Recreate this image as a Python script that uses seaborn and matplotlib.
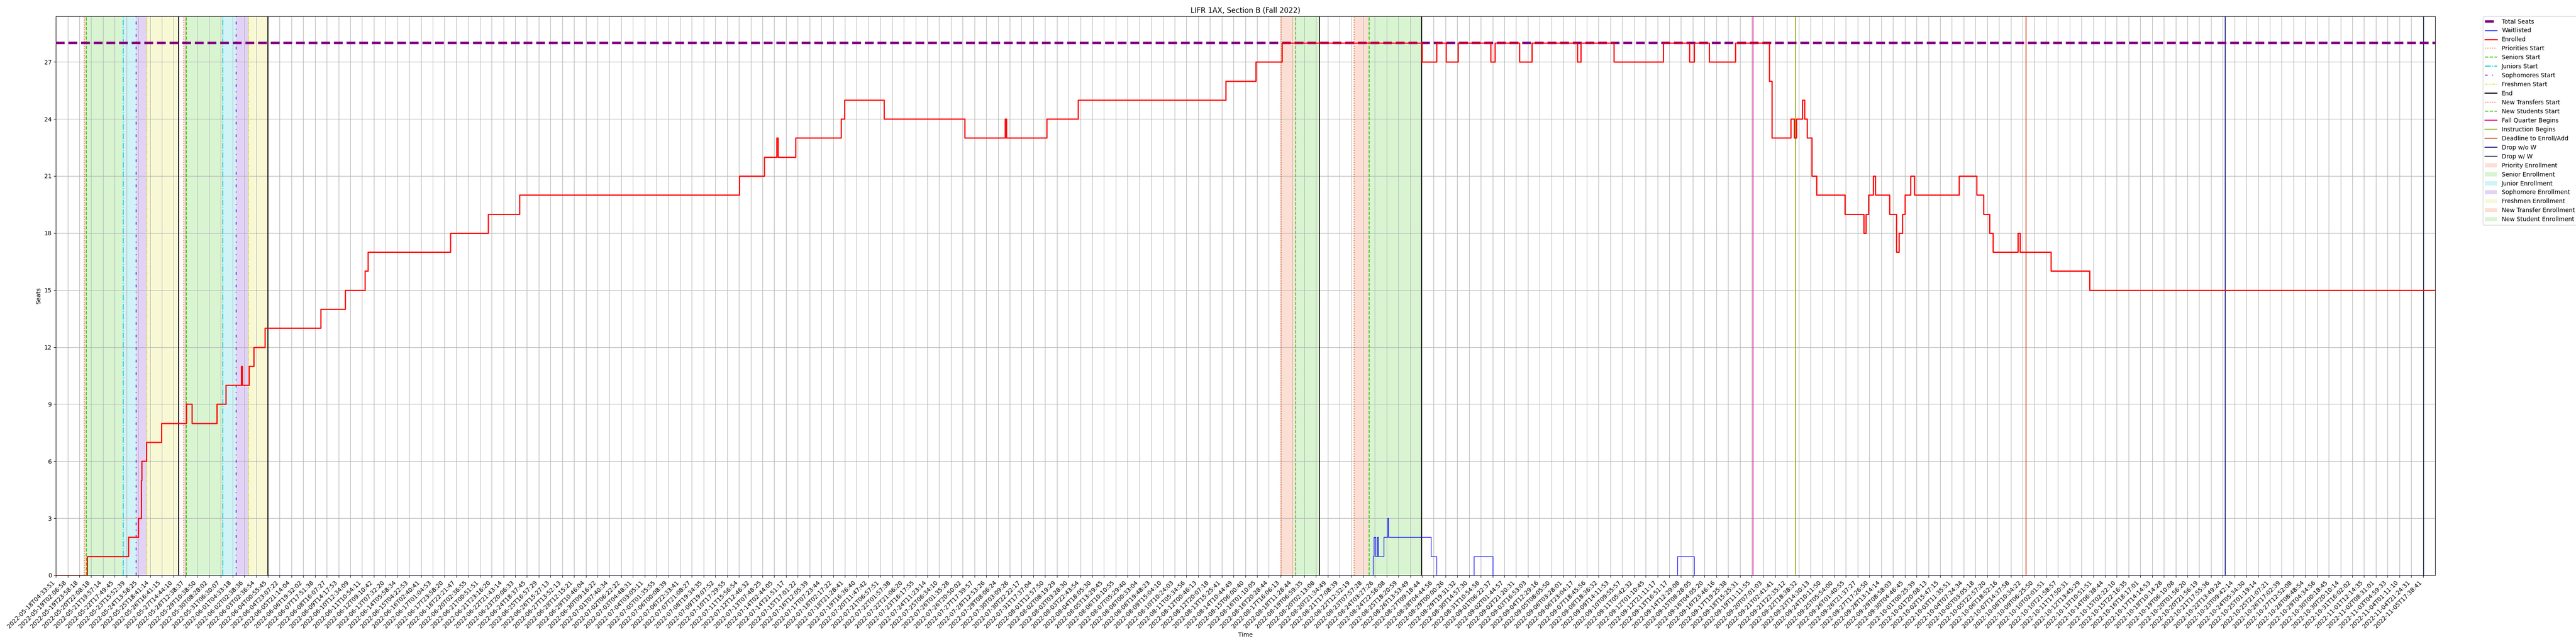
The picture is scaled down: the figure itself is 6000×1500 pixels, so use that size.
import numpy as np
import seaborn as sns
import matplotlib.pyplot as plt
from matplotlib.patches import Patch

# x positions are sample positions measured in tick steps (one tick every N samples)
tick_labels = [
    '2022-05-18T04:33:51', '2022-05-19T02:06:58', '2022-05-19T23:58:18', '2022-05-20T22:08:18',
    '2022-05-21T19:57:14', '2022-05-22T17:49:45', '2022-05-23T15:52:39', '2022-05-24T13:58:25',
    '2022-05-25T18:41:14', '2022-05-26T16:41:15', '2022-05-27T14:44:10', '2022-05-28T12:38:37',
    '2022-05-29T10:38:50', '2022-05-30T08:28:02', '2022-05-31T06:30:07', '2022-06-01T04:33:18',
    '2022-06-02T02:38:36', '2022-06-03T02:36:54', '2022-06-04T00:55:45', '2022-06-04T23:07:22',
    '2022-06-05T21:14:04', '2022-06-06T19:32:02', '2022-06-07T17:51:38', '2022-06-08T16:07:27',
    '2022-06-09T14:17:53', '2022-06-10T12:34:09', '2022-06-11T10:54:11', '2022-06-12T09:10:42',
    '2022-06-13T07:32:20', '2022-06-14T05:58:34', '2022-06-15T04:22:53', '2022-06-16T02:40:41',
    '2022-06-17T01:04:53', '2022-06-17T23:58:20', '2022-06-18T22:21:47', '2022-06-20T02:36:55',
    '2022-06-21T00:51:51', '2022-06-21T23:16:20', '2022-06-22T21:43:14', '2022-06-23T20:06:33',
    '2022-06-24T18:37:45', '2022-06-25T16:57:29', '2022-06-26T15:27:13', '2022-06-27T13:52:13',
    '2022-06-28T12:15:21', '2022-06-29T10:46:04', '2022-06-30T09:16:22', '2022-07-01T07:40:34',
    '2022-07-02T06:22:22', '2022-07-03T04:48:31', '2022-07-04T03:05:11', '2022-07-05T01:35:55',
    '2022-07-06T00:08:39', '2022-07-06T22:33:41', '2022-07-07T21:08:27', '2022-07-08T19:34:35',
    '2022-07-09T19:07:52', '2022-07-10T17:29:55', '2022-07-11T15:56:54', '2022-07-12T12:46:32',
    '2022-07-13T07:48:25', '2022-07-14T02:44:05', '2022-07-14T21:51:17', '2022-07-15T17:01:22',
    '2022-07-16T12:05:39', '2022-07-17T07:23:44', '2022-07-18T02:17:22', '2022-07-18T21:28:41',
    '2022-07-19T16:36:40', '2022-07-20T11:47:42', '2022-07-21T06:57:51', '2022-07-22T01:57:38',
    '2022-07-22T21:06:20', '2022-07-23T16:17:55', '2022-07-24T11:23:14', '2022-07-25T06:34:10',
    '2022-07-26T01:35:28', '2022-07-26T20:50:02', '2022-07-27T17:39:57', '2022-07-28T12:53:26',
    '2022-07-29T08:06:24', '2022-07-30T03:09:26', '2022-07-30T22:22:17', '2022-07-31T17:37:04',
    '2022-08-01T12:57:50', '2022-08-02T08:19:29', '2022-08-03T03:28:30', '2022-08-03T22:43:54',
    '2022-08-04T18:05:30', '2022-08-05T13:29:45', '2022-08-06T10:10:55', '2022-08-07T05:29:40',
    '2022-08-08T00:33:04', '2022-08-08T19:48:23', '2022-08-09T15:04:10', '2022-08-10T10:24:03',
    '2022-08-11T05:34:56', '2022-08-12T00:46:13', '2022-08-12T20:07:18', '2022-08-13T15:25:41',
    '2022-08-14T10:44:49', '2022-08-15T06:00:40', '2022-08-16T01:10:05', '2022-08-16T20:28:44',
    '2022-08-17T16:06:13', '2022-08-18T11:28:44', '2022-08-19T06:59:35', '2022-08-20T02:13:08',
    '2022-08-20T21:34:49', '2022-08-21T17:08:39', '2022-08-22T12:32:19', '2022-08-23T07:57:28',
    '2022-08-24T03:27:26', '2022-08-24T22:56:08', '2022-08-25T18:20:59', '2022-08-26T13:53:49',
    '2022-08-27T09:18:44', '2022-08-28T04:44:56', '2022-08-29T00:00:26', '2022-08-29T19:31:32',
    '2022-08-30T14:57:30', '2022-08-31T10:54:58', '2022-09-01T06:22:37', '2022-09-02T01:44:57',
    '2022-09-02T21:20:31', '2022-09-03T16:53:03', '2022-09-04T12:29:16', '2022-09-05T08:05:50',
    '2022-09-06T03:28:01', '2022-09-06T23:04:17', '2022-09-07T18:45:56', '2022-09-08T18:36:32',
    '2022-09-09T14:11:53', '2022-09-10T09:55:57', '2022-09-11T05:42:32', '2022-09-12T01:10:45',
    '2022-09-12T21:11:17', '2022-09-13T16:51:17', '2022-09-14T12:29:08', '2022-09-15T08:28:05',
    '2022-09-16T04:05:20', '2022-09-16T23:46:16', '2022-09-17T19:25:38', '2022-09-18T15:25:31',
    '2022-09-19T11:11:55', '2022-09-20T07:01:03', '2022-09-21T02:41:41', '2022-09-21T22:35:12',
    '2022-09-22T18:38:32', '2022-09-23T14:30:13', '2022-09-24T10:11:50', '2022-09-25T05:54:00',
    '2022-09-26T01:40:55', '2022-09-26T21:37:27', '2022-09-27T17:26:50', '2022-09-28T13:14:14',
    '2022-09-29T08:58:03', '2022-09-30T04:46:45', '2022-10-01T00:25:39', '2022-10-01T20:08:13',
    '2022-10-02T15:47:15', '2022-10-03T11:35:51', '2022-10-04T07:24:34', '2022-10-05T03:05:18',
    '2022-10-05T22:57:20', '2022-10-06T18:52:16', '2022-10-07T14:37:58', '2022-10-08T10:34:22',
    '2022-10-09T06:25:50', '2022-10-10T02:01:51', '2022-10-10T21:58:57', '2022-10-11T17:50:31',
    '2022-10-12T13:45:29', '2022-10-13T10:51:51', '2022-10-14T06:38:44', '2022-10-15T02:22:10',
    '2022-10-15T22:16:35', '2022-10-16T18:17:01', '2022-10-17T14:14:53', '2022-10-18T10:14:28',
    '2022-10-19T06:10:08', '2022-10-20T01:56:20', '2022-10-20T21:56:19', '2022-10-21T17:55:36',
    '2022-10-22T13:49:24', '2022-10-23T09:42:14', '2022-10-24T05:34:30', '2022-10-25T01:19:14',
    '2022-10-25T21:07:21', '2022-10-26T17:02:39', '2022-10-27T12:52:08', '2022-10-28T08:48:54',
    '2022-10-29T04:34:56', '2022-10-30T00:18:45', '2022-10-30T20:10:14', '2022-10-31T16:02:02',
    '2022-11-01T12:14:35', '2022-11-02T08:31:01', '2022-11-03T04:59:33', '2022-11-04T01:11:10',
    '2022-11-04T21:24:31', '2022-11-05T17:38:41',
]
x_end = 202.03
total_seats = 28

# enrolled: change points (position, value from that point on)
enrolled_x = [0, 2.66, 6.15, 7.0, 7.24, 7.26, 7.28, 7.69, 8.95, 11.07, 11.56, 13.67, 14.42,
              15.73, 15.82, 16.41, 16.81, 17.75, 22.47, 24.56, 26.24, 26.51, 33.49, 36.70,
              39.35, 58.05, 60.14, 61.2, 61.3, 62.79, 66.69, 66.97, 70.32, 77.16, 80.6, 80.7,
              84.13, 86.78, 99.34, 101.9, 104.1, 116.0, 117.24, 118.05, 119.07, 121.84, 122.2,
              124.28, 125.34, 129.2, 129.5, 132.3, 136.5, 138.7, 139.1, 140.4, 142.6,
              145.5, 145.7, 147.3, 147.6, 147.8, 148.3, 148.5, 148.7, 149.1, 149.5,
              151.9, 153.5, 153.7, 153.9, 154.3, 154.5, 155.7, 156.3, 156.5, 156.8, 157.0,
              157.5, 157.8, 161.6, 163.1, 163.7, 164.2, 164.5, 166.6, 166.8, 169.4, 172.7, x_end]
enrolled_y = [0, 1, 2, 3, 4, 5, 6, 7, 8, 9, 8, 9, 10,
              11, 10, 11, 12, 13, 14, 15, 16, 17, 18, 19,
              20, 21, 22, 23, 22, 23, 24, 25, 24, 23, 24, 23,
              24, 25, 26, 27, 28, 27, 28, 27, 28, 27, 28,
              27, 28, 27, 28, 27, 28, 27, 28, 27, 28,
              26, 23, 24, 23, 24, 25, 24, 23, 21, 20,
              19, 18, 19, 20, 21, 20, 19, 17, 18, 19, 20,
              21, 20, 21, 20, 19, 18, 17, 18, 17, 16, 15, 15]

waitlist_x = [0, 111.86, 111.9, 112.07, 112.2, 112.27, 112.77, 113.1, 113.16, 116.76, 117.24,
              120.4, 122.0, 137.7, 139.1, x_end]
waitlist_y = [0, 1, 2, 1, 2, 1, 2, 3, 2, 1, 0, 1, 0, 1, 0, 0]

# enrollment events: (label, positions, color, linestyle)
events = [
    ('Priorities Start', [2.40, 10.86], '#f4622a', ':'),
    ('Seniors Start', [2.59, 11.07], '#3cc81a', '--'),
    ('Juniors Start', [5.72, 14.17], '#12c6d6', '-.'),
    ('Sophomores Start', [6.82, 15.29], '#6a1fd6', (0, (3, 5, 1, 5))),
    ('Freshmen Start', [7.73, 16.36], '#dede30', (0, (3, 1, 1, 1, 1, 1))),
    ('End', [10.42, 17.99, 107.27, 115.97], 'black', '-'),
    ('New Transfers Start', [104.05, 110.25], '#f4622a', ':'),
    ('New Students Start', [105.28, 111.5], '#3cc81a', '--'),
    ('Fall Quarter Begins', [144.1], '#e0109c', '-'),
    ('Instruction Begins', [147.7], '#8db31a', '-'),
    ('Deadline to Enroll/Add', [167.3], '#d2431c', '-'),
    ('Drop w/o W', [184.2], '#2e2a8a', '-'),
    ('Drop w/ W', [201.05], '#2f3a5a', '-'),
]

# shaded enrollment windows: (label, starts, ends, color)
windows = [
    ('Priority Enrollment', [2.40, 10.86], [2.59, 11.07], '#f4622a'),
    ('Senior Enrollment', [2.59, 11.07], [5.72, 14.17], '#3cc81a'),
    ('Junior Enrollment', [5.72, 14.17], [6.82, 15.29], '#12c6d6'),
    ('Sophomore Enrollment', [6.82, 15.29], [7.73, 16.36], '#6a1fd6'),
    ('Freshmen Enrollment', [7.73, 16.36], [10.42, 17.99], '#dede30'),
    ('New Transfer Enrollment', [104.05, 110.25], [105.28, 111.5], '#f4622a'),
    ('New Student Enrollment', [105.28, 111.5], [107.27, 115.97], '#3cc81a'),
]

fig, ax = plt.subplots(figsize=(60, 15), dpi=100)
fig.subplots_adjust(left=0.0217, right=0.9453, top=0.9747, bottom=0.1067)

ax.axhline(total_seats, color='purple', linestyle='--', linewidth=4, label='Total Seats', zorder=3)
sns.lineplot(x=waitlist_x, y=waitlist_y, drawstyle='steps-post', color='blue', linewidth=1,
             label='Waitlisted', estimator=None, sort=False, ax=ax, zorder=4)
sns.lineplot(x=enrolled_x, y=enrolled_y, drawstyle='steps-post', color='red', linewidth=2,
             label='Enrolled', estimator=None, sort=False, ax=ax, zorder=4)

for label, xs, color, ls in events:
    for i, xv in enumerate(xs):
        ax.axvline(xv, color=color, linestyle=ls, linewidth=1.5, label=label if i == 0 else None)

span_handles = []
for label, starts, ends, color in windows:
    for s, e in zip(starts, ends):
        ax.axvspan(s, e, color=color, alpha=0.2, linewidth=0)
    span_handles.append(Patch(facecolor=color, alpha=0.2, label=label))

ax.set_xticks(np.arange(len(tick_labels)))
ax.set_xticklabels(tick_labels, rotation=45, ha='right')
ax.set_yticks(np.arange(0, total_seats, 3))
ax.set_xlim(0, x_end)
ax.set_ylim(0, total_seats * 1.05)
ax.grid(True)
ax.set_title('LIFR 1AX, Section B (Fall 2022)')
ax.set_xlabel('Time')
ax.set_ylabel('Seats')

handles, labels = ax.get_legend_handles_labels()
ax.legend(handles + span_handles, labels + [h.get_label() for h in span_handles],
          bbox_to_anchor=(1.02, 1), loc='upper left', borderaxespad=0)

fig.savefig('out.png')
